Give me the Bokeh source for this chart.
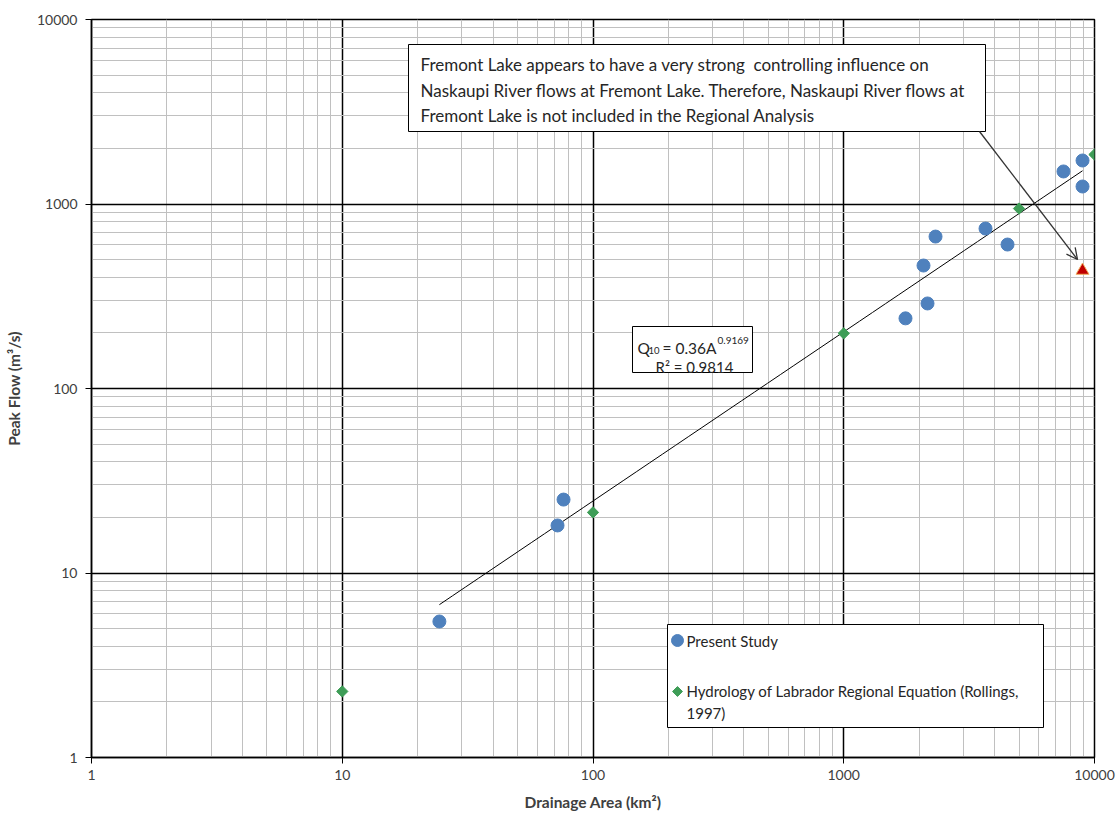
import math
import numpy as np
from bokeh.plotting import figure
from bokeh.models import (Range1d, FixedTicker, PrintfTickFormatter, BoxAnnotation, Label,
                          Arrow, OpenHead)
from bokeh.embed import file_html
from bokeh.resources import INLINE

# Present study: drainage area (km²) and 1:10-year peak flow (m³/s)
study_area = [24.4, 72.2, 76.3, 1763, 2080, 2158, 2323, 3676, 4499, 7522, 8959, 8959]
study_flow = [5.46, 18.1, 25.0, 240, 464, 289, 666, 736, 603, 1501, 1721, 1244]

# Hydrology of Labrador regional equation (Rollings, 1997)
regional_area = [10, 100, 1000, 5000, 10000]
regional_flow = [2.28, 21.3, 199, 945, 1854]

# Naskaupi River at Fremont Lake (excluded from the regression)
excluded_area = [8959]
excluded_flow = [436]

# Fitted regional relation Q10 = a * A^b
fit_a = 0.36
fit_b = 0.9169
fit_r2 = 0.9814

major_ticks = [1, 10, 100, 1000, 10000]
minor_ticks = [k * 10 ** d for d in range(4) for k in range(2, 10)]

STUDY_COLOR = "#4F81BD"
REGIONAL_COLOR = "#3E9D57"
FONT = "Lato"
TEXT = "#262626"
W, H = 1119, 813
BL, BR, BT, BB = 91, 25, 19, 56

p = figure(width=W, height=H, x_axis_type="log", y_axis_type="log",
           x_range=Range1d(1, 10000), y_range=Range1d(1, 10000),
           output_backend="svg", toolbar_location=None,
           min_border_left=BL, min_border_right=BR, min_border_top=BT, min_border_bottom=BB,
           background_fill_color="white", border_fill_color="white")
p.outline_line_color = "black"
p.outline_line_width = 1.5

for ax in (p.xaxis[0], p.yaxis[0]):
    ax.ticker = FixedTicker(ticks=major_ticks, minor_ticks=minor_ticks)
    ax.formatter = PrintfTickFormatter(format="%d")
    ax.axis_line_color = "black"
    ax.axis_line_width = 1.5
    ax.major_tick_line_color = "black"
    ax.major_tick_in = 0
    ax.major_tick_out = 6
    ax.minor_tick_line_color = None
    ax.major_label_text_font = FONT
    ax.major_label_text_font_size = "14px"
    ax.major_label_text_color = "#404040"
    ax.axis_label_text_font = FONT
    ax.axis_label_text_font_size = "15.5px"
    ax.axis_label_text_font_style = "bold"
    ax.axis_label_text_color = "#404040"

p.xaxis.axis_label = "Drainage Area (km²)"
p.yaxis.axis_label = "Peak Flow (m³/s)"
p.xaxis.major_label_standoff = 6
p.yaxis.major_label_standoff = 8
p.xaxis.axis_label_standoff = 10
p.yaxis.axis_label_standoff = 11

for g in (p.xgrid[0], p.ygrid[0]):
    g.grid_line_color = "black"
    g.grid_line_width = 1.5
    g.minor_grid_line_color = "#C0C0C0"
    g.minor_grid_line_width = 1

# Trend line from the fitted relation across the present-study range
fit_x = np.logspace(math.log10(min(study_area)), math.log10(max(study_area)), 50)
fit_y = fit_a * fit_x ** fit_b
p.line(fit_x, fit_y, line_color="black", line_width=1)

p.scatter(study_area, study_flow, marker="circle", size=13,
          fill_color=STUDY_COLOR, line_color=STUDY_COLOR)
p.scatter(regional_area, regional_flow, marker="square", size=8, angle=math.pi / 4,
          fill_color=REGIONAL_COLOR, line_color=REGIONAL_COLOR)
p.scatter(excluded_area, excluded_flow, marker="triangle", size=13,
          fill_color="#C00000", line_color="#F0B060", line_width=1)


def at(px, py):
    """Canvas pixel position -> data coordinates on the log/log frame."""
    fw = W - BL - BR
    fh = H - BT - BB
    return 10 ** (4 * (px - BL) / fw), 10 ** (4 * (H - BB - py) / fh)


def box(left, top, right, bottom):
    x0, y0 = at(left, bottom)
    x1, y1 = at(right, top)
    p.add_layout(BoxAnnotation(left=x0, right=x1, bottom=y0, top=y1,
                               fill_color="white", fill_alpha=1,
                               line_color="black", line_alpha=1, line_width=1,
                               level="annotation"))


def label(text, px, py, size, align="left", baseline="alphabetic"):
    lx, ly = at(px, py)
    p.add_layout(Label(x=lx, y=ly, text=text, text_font=FONT, text_font_size=size,
                       text_color=TEXT, text_baseline=baseline, text_align=align))


# Note box with arrow pointing at the excluded station
box(408, 44, 985, 131)
note_lines = ["Fremont Lake appears to have a very strong\u00a0 controlling influence on",
              "Naskaupi River flows at Fremont Lake. Therefore, Naskaupi River flows at",
              "Fremont Lake is not included in the Regional Analysis"]
for i, t in enumerate(note_lines):
    label(t, 420, 64 + 25.5 * i, "17px")

ax0, ay0 = at(979, 131)
ax1, ay1 = at(1077, 259)
p.add_layout(Arrow(x_start=ax0, y_start=ay0, x_end=ax1, y_end=ay1,
                   line_color="#333333", line_width=1.3,
                   end=OpenHead(size=11, line_color="#333333", line_width=1.3)))

# Equation box
box(632, 326, 752, 372)
label("Q", 637, 347, "15.5px")
label("10", 648, 350, "9.5px")
label(f"= {fit_a:.2f}A", 662, 347, "15.5px")
label(f"{fit_b:.4f}", 717, 340, "10px")
label(f"R² = {fit_r2:.4f}", 694, 366, "15px", align="center")

# Legend
box(667, 624, 1043, 727)
sx, sy = at(677, 640)
p.scatter([sx], [sy], marker="circle", size=12, fill_color=STUDY_COLOR, line_color=STUDY_COLOR,
          level="overlay")
label("Present Study", 686, 640, "15px", baseline="middle")
dx, dy = at(677, 691)
p.scatter([dx], [dy], marker="square", size=7, angle=math.pi / 4, fill_color=REGIONAL_COLOR,
          line_color=REGIONAL_COLOR, level="overlay")
label("Hydrology of Labrador Regional Equation (Rollings,", 686, 690, "15px", baseline="middle")
label("1997)", 686, 712, "15px", baseline="middle")

open("out.html", "w").write(file_html(p, INLINE))
